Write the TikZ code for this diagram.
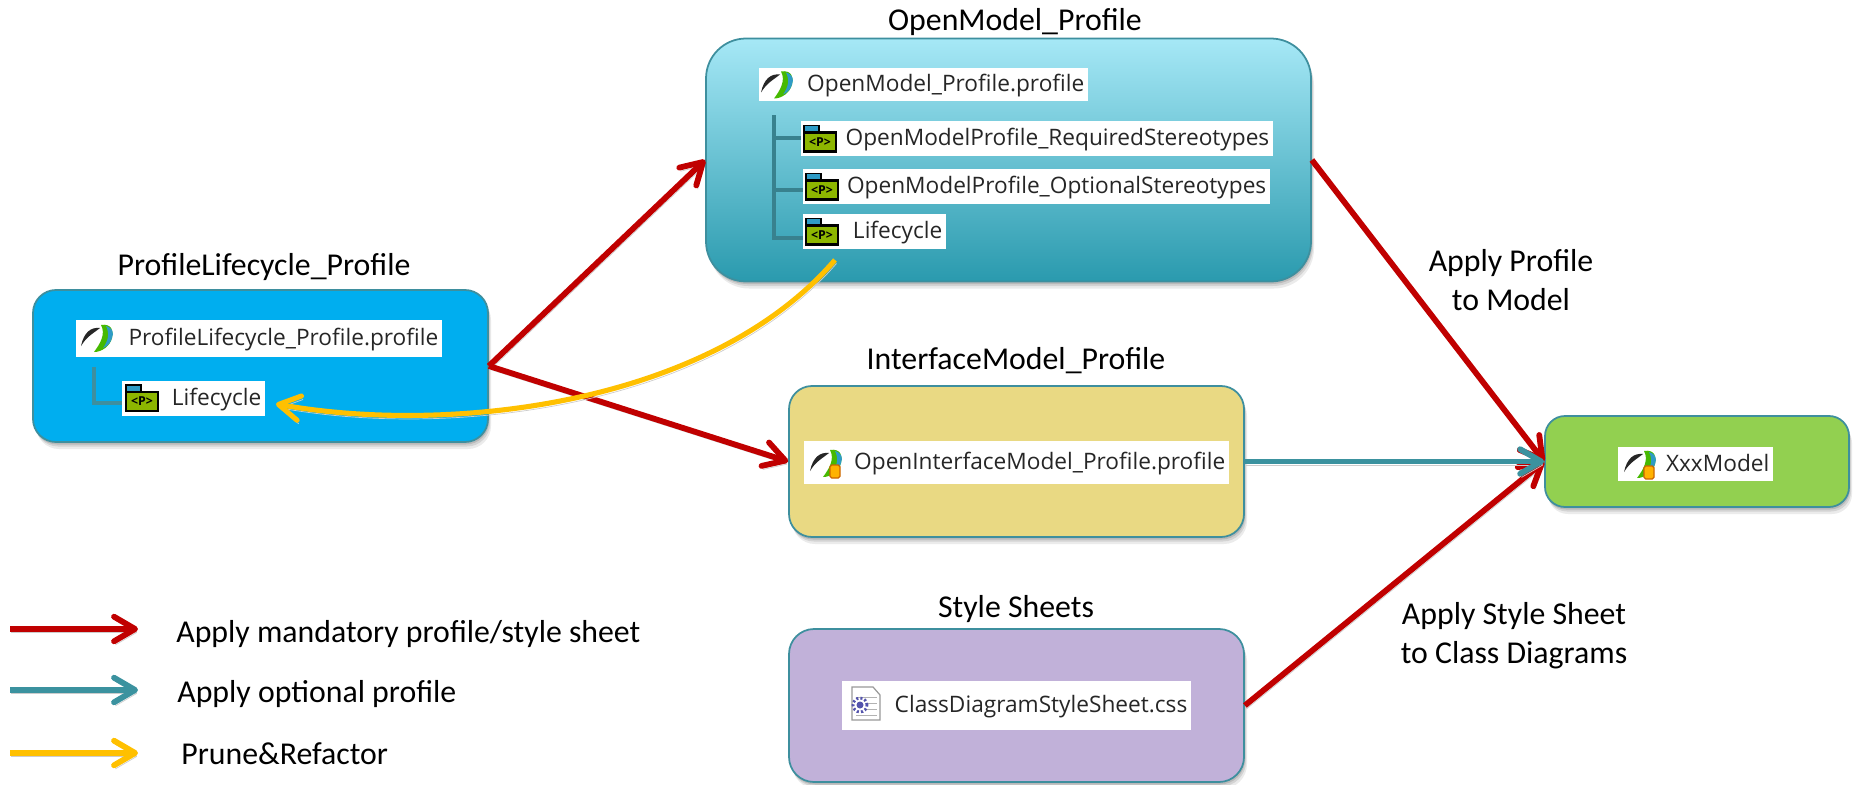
\documentclass[tikz,border=0pt]{standalone}
\usepackage{fontspec}
\setmainfont{Carlito}
\newfontfamily\labelfamily{Open Sans}
\usepackage{xcolor}
\usepackage{tikz}
\usetikzlibrary{
	positioning,
	arrows.meta,
	calc,
	shadows
}

\definecolor{mandatoryred}{HTML}{C00000}
\definecolor{optionalteal}{HTML}{3B929F}
\definecolor{pruneyellow}{HTML}{FFC000}
\definecolor{boxedge}{HTML}{3E8F9E}
\definecolor{opentop}{HTML}{A6E8F6}
\definecolor{openbottom}{HTML}{2A9AAE}
\definecolor{pkggreen}{HTML}{8DB600}
\definecolor{pkgtab}{HTML}{2E9BC6}

\tikzset{
	softshadow/.style={
		drop shadow={shadow xshift=0.02cm, shadow yshift=-0.05cm, opacity=0.12, fill=black},
		drop shadow={shadow xshift=0.04cm, shadow yshift=-0.09cm, opacity=0.10, fill=black},
		drop shadow={shadow xshift=0.06cm, shadow yshift=-0.14cm, opacity=0.08, fill=black}
	},
	size/.style 2 args={minimum width=#1*0.02cm, minimum height=#2*0.02cm},
	box/.style={draw=boxedge, line width=1pt, rectangle, inner sep=0pt, softshadow},
	title/.style={font=\fontsize{18.1}{22}\selectfont, inner sep=0pt, align=center},
	filelabel/.style={fill=white, anchor=west, inner xsep=0.08cm, inner ysep=0pt, align=right,
		text height=12pt, text depth=3.6pt,
		font=\labelfamily\fontsize{12.9}{14}\selectfont, text=black!85},
	treeline/.style={draw=#1, line width=2.2pt},
	flow/.style={line width=3.3pt,
		-{Straight Barb[length=12pt, width=14pt, round]},
		preaction={draw=black!20, transform canvas={shift={(0.03cm,-0.07cm)}}}},
	mandatory/.style={flow, draw=mandatoryred},
	optional/.style={flow, draw=optionalteal},
	prune/.style={flow, draw=pruneyellow, line width=2.9pt},
	pics/profileicon/.style={code={
		\fill[black!85] (-16,8) .. controls (-13,-6) and (-6,-11) .. (3,-10)
			.. controls (-3,-5) and (-10,-2) .. (-16,8) -- cycle;
		\fill[green!45!olive] (4,-13) .. controls (15,-15) and (17,-6) .. (15,0)
			.. controls (13,8) and (5,14) .. (-3,14)
			.. controls (3,6) and (9,-4) .. (4,-13) -- cycle;
		\fill[pkgtab] (9,-12) .. controls (16,-10) and (17,-5) .. (15,0)
			.. controls (14,4) and (11,8) .. (6,10)
			.. controls (11,3) and (13,-4) .. (9,-12) -- cycle;
	}},
	pics/modelicon/.style={code={
		\pic {profileicon};
		\filldraw[draw=orange!80!black, fill=orange!60!yellow, line width=0.7pt, rounded corners=1pt] (4,2) rectangle (14,15);
	}},
	pics/pkgicon/.style={code={
		\filldraw[draw=black, fill=pkgtab, line width=0.8pt] (-16,-13) rectangle (-1,-5);
		\filldraw[draw=black, fill=pkggreen, line width=1.2pt] (-16,-6) -- (16,-6) -- (16,13) -- (-16,13) -- cycle;
		\node[font=\labelfamily\bfseries\fontsize{7}{7}\selectfont, inner sep=0pt] (-tag) at (0,3.5) {<P>};
	}},
	pics/cssicon/.style={code={
		\filldraw[draw=black!40, fill=white, line width=0.7pt] (-13,-17) -- (8,-17) -- (15,-9) -- (15,16) -- (-13,16) -- cycle;
		\foreach \yy in {-7,-1,5,11} {\draw[black!30, line width=0.5pt] (-9,\yy) -- (12,\yy);}
		\draw[blue!35!gray, line width=1.6pt, dash pattern=on 1.2pt off 1.2pt, fill=white] (-5,1) circle (0.14cm);
		\fill[blue!35!gray] (-5,1) circle (0.07cm);
	}}
}

\begin{document}
\begin{tikzpicture}[x=0.02cm, y=-0.02cm, >=latex]
	\useasboundingbox (0,0) rectangle (1858,784);

	% --- Boxes ---
	\node[box, size={605}{243}, rounded corners=0.8cm, top color=opentop, bottom color=openbottom] (openbox) at (1008.5,160) {};
	\node[box, size={455}{152}, rounded corners=0.46cm, fill={rgb,255:red,0;green,174;blue,239}] (lifebox) at (260.5,366) {};
	\node[box, size={455}{151}, rounded corners=0.46cm, fill={rgb,255:red,233;green,217;blue,131}] (interfacebox) at (1016.5,461.5) {};
	\node[box, size={304}{91}, rounded corners=0.4cm, fill={rgb,255:red,146;green,208;blue,80}] (xxxbox) at (1697,461.5) {};
	\node[box, size={455}{153}, rounded corners=0.5cm, fill={rgb,255:red,193;green,177;blue,217}] (stylebox) at (1016.5,705.5) {};

	% --- Titles ---
	\node[title] (opentitle) at (1015,22) {OpenModel\_Profile};
	\node[title] (lifetitle) at (264,267) {ProfileLifecycle\_Profile};
	\node[title] (interfacetitle) at (1016,361) {InterfaceModel\_Profile};
	\node[title] (styletitle) at (1016,609) {Style Sheets};
	\node[title] (applyprofile) at (1511,280) {Apply Profile\\to Model};
	\node[title] (applystyle) at (1514,636) {Apply Style Sheet\\to Class Diagrams};

	% --- Tree lines ---
	\coordinate (opentree) at (774,115);
	\coordinate (lifetree) at (94,367);
	\coordinate (reqstub) at (801,138);
	\coordinate (optstub) at (803,190);
	\coordinate (cyclestub) at (803,238);
	\coordinate (lifestub) at (122,403);
	\draw[treeline=boxedge!90!black] (opentree) |- (reqstub);
	\draw[treeline=boxedge!90!black] (opentree) |- (optstub);
	\draw[treeline=boxedge!90!black] (opentree) |- (cyclestub);
	\draw[treeline=boxedge] (lifetree) |- (lifestub);

	% --- File labels ---
	\node[filelabel, text width=6.42cm, minimum height=0.66cm] (openfile) at (759,84.5) {OpenModel\_Profile.profile};
	\node[filelabel, text width=9.28cm, minimum height=0.70cm] (reqfile) at (801,138.5) {OpenModelProfile\_RequiredStereotypes};
	\node[filelabel, text width=9.18cm, minimum height=0.70cm] (optfile) at (803,186.5) {OpenModelProfile\_OptionalStereotypes};
	\node[filelabel, text width=2.70cm, minimum height=0.70cm] (cyclefile) at (803,231.5) {Lifecycle};
	\node[filelabel, text width=7.16cm, minimum height=0.74cm] (lifefile) at (76,338.5) {ProfileLifecycle\_Profile.profile};
	\node[filelabel, text width=2.70cm, minimum height=0.70cm] (lifecycle) at (122,398.5) {Lifecycle};
	\node[filelabel, text width=8.34cm, minimum height=0.86cm] (interfacefile) at (804,462.5) {OpenInterfaceModel\_Profile.profile};
	\node[filelabel, text width=2.94cm, minimum height=0.68cm] (xxxfile) at (1618,464) {XxxModel};
	\node[filelabel, text width=6.82cm, minimum height=0.98cm] (cssfile) at (842,705.5) {ClassDiagramStyleSheet.css};

	% --- Icons ---
	\pic (openicon) at (777,84.5) {profileicon};
	\pic (lifeicon) at (97,338) {profileicon};
	\pic (interfaceicon) at (826,463) {modelicon};
	\pic (xxxicon) at (1640,464) {modelicon};
	\pic (reqicon) at (820,138.5) {pkgicon};
	\pic (opticon) at (822,186.5) {pkgicon};
	\pic (cycleicon) at (822,231.5) {pkgicon};
	\pic (lifepkg) at (142,398) {pkgicon};
	\pic (cssicon) at (865,704) {cssicon};

	% --- Arrows ---
	\draw[mandatory] (lifebox.east) -- (openbox.west);
	\draw[mandatory] (lifebox.east) -- (interfacebox.west);
	\draw[mandatory] (openbox.east) -- (xxxbox.west);
	\draw[mandatory] (stylebox.east) -- (xxxbox.west);
	\draw[optional] (interfacebox.east) -- (xxxbox.west);
	\coordinate (prunefrom) at (835,260);
	\coordinate (pruneto) at (276,404);
	\draw[prune] (prunefrom) .. controls (710,405) and (450,435) .. (pruneto);

	% --- Legend ---
	\coordinate (mandatoryfrom) at (10,629);
	\coordinate (mandatoryto) at (138,629);
	\coordinate (optionalfrom) at (10,690);
	\coordinate (optionalto) at (138,690);
	\coordinate (prunelegendfrom) at (10,753);
	\coordinate (prunelegendto) at (138,753);
	\draw[mandatory] (mandatoryfrom) -- (mandatoryto);
	\draw[optional] (optionalfrom) -- (optionalto);
	\draw[prune, line width=3.3pt] (prunelegendfrom) -- (prunelegendto);
	\node[title, anchor=west] (mandatorytext) at (176,634) {Apply mandatory profile/style sheet};
	\node[title, anchor=west] (optionaltext) at (177,694) {Apply optional profile};
	\node[title, anchor=west] (prunetext) at (181,754) {Prune\&Refactor};
\end{tikzpicture}
\end{document}
